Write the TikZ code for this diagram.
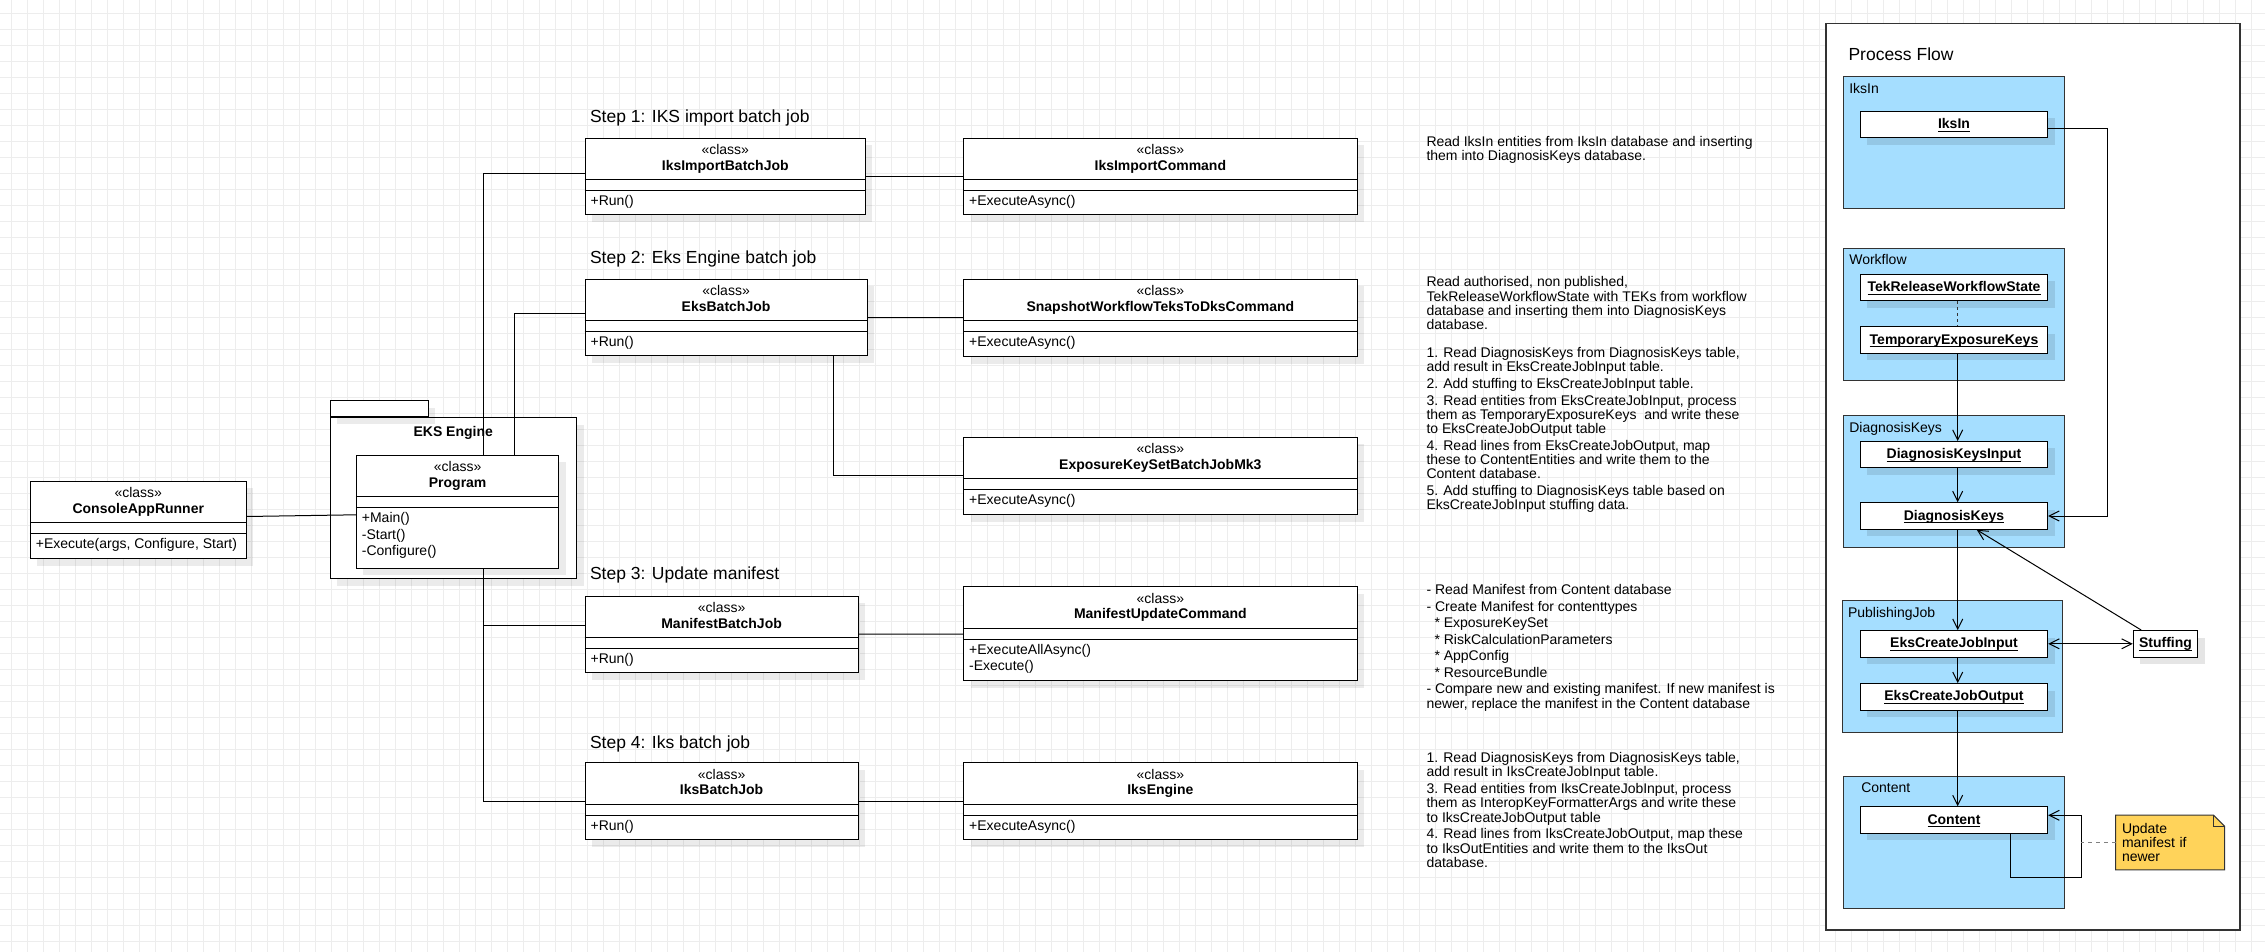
\documentclass[tikz,border=0pt]{standalone}
\usepackage{fontspec}
\setmainfont{Liberation Sans}
\usetikzlibrary{arrows.meta}
\usetikzlibrary{shadows}

\definecolor{groupBlue}{RGB}{165,222,255}
\definecolor{noteYellow}{RGB}{255,211,90}
\definecolor{gridGray}{RGB}{237,237,237}
\definecolor{lineGray}{RGB}{51,51,51}

\newsavebox{\UnderBox}
\newcommand{\Under}[1]{\sbox{\UnderBox}{#1}\rlap{\rule[-3.2pt]{\wd\UnderBox}{1pt}}\usebox{\UnderBox}}

\newcommand{\UMLClass}[7]{%
	\node[classStyle, minimum width = #4pt, minimum height = #5pt] (#1) at (#2, #3) {};
	\node[anchor = base] (#1Type) at ([yshift = -16.7pt]#1.north) {«class»};
	\node[anchor = base] (#1Name) at ([yshift = -32.5pt]#1.north) {\bfseries #6};
	\draw ([yshift = -42pt]#1.north west) -- ([yshift = -42pt]#1.north east);
	\draw ([yshift = -53pt]#1.north west) -- ([yshift = -53pt]#1.north east);
	\foreach \m [count = \i] in {#7}
		\node[anchor = base west] (#1Op\i) at ([xshift = 5.5pt, yshift = {-68pt - 16.5pt*(\i - 1)}]#1.north west) {\m};
}

\begin{document}
\begin{tikzpicture}[x = 1pt, y = -1pt, line width = 1pt, inner sep = 0pt, font = \fontsize{14}{16.5}\selectfont]
	\tikzstyle{classStyle} = [draw, fill = white, anchor = north west, drop shadow = {shadow xshift = 7pt, shadow yshift = -7pt, opacity = 0.08, fill = black}]
	\tikzstyle{packageStyle} = [draw, fill = white, drop shadow = {shadow xshift = 7pt, shadow yshift = -7pt, opacity = 0.08, fill = black}]
	\tikzstyle{stepStyle} = [anchor = base west, font = \fontsize{17.5}{21}\selectfont]
	\tikzstyle{descStyle} = [anchor = north west, align = left, font = \fontsize{14}{14.3}\selectfont]
	\tikzstyle{panelStyle} = [draw = lineGray, fill = white, anchor = north west, line width = 1.2pt]
	\tikzstyle{groupStyle} = [draw = lineGray, fill = groupBlue, anchor = north west, minimum width = 220.4pt, minimum height = 132pt]
	\tikzstyle{groupLabelStyle} = [anchor = base west]
	\tikzstyle{objectStyle} = [draw, fill = white, minimum width = 187.4pt, minimum height = 26.5pt, text height = 10pt, text depth = 2pt, font = \fontsize{14}{16.5}\selectfont\bfseries, drop shadow = {shadow xshift = 7pt, shadow yshift = -7pt, opacity = 0.1, fill = black}]
	\tikzstyle{flowStyle} = [-{Straight Barb[length = 10pt, width = 10pt]}]
	\tikzstyle{biflowStyle} = [{Straight Barb[length = 10pt, width = 10pt]}-{Straight Barb[length = 10pt, width = 10pt]}]
	\tikzstyle{noteStyle} = [draw = lineGray, fill = noteYellow]
	\useasboundingbox (0, 0) rectangle (2265, 952);
	\fill[white] (0, 0) rectangle (2265, 952);
	\begin{scope}[shift = {(11.3, 13.3)}]
		\draw[gridGray, step = 16pt] (-11.3, -13.3) grid (2253.7, 938.7);
	\end{scope}
	\node[packageStyle, anchor = north west, minimum width = 246.5pt, minimum height = 161pt] (eksEngine) at (329.5, 417) {};
	\node[packageStyle, anchor = south west, minimum width = 98.4pt, minimum height = 15.7pt] (eksEngineTab) at (eksEngine.north west) {};
	\node[anchor = base] (eksEngineName) at ([yshift = -19.7pt]eksEngine.north) {\bfseries EKS Engine};
	\node[stepStyle] (step1) at (589.5, 122.3) {Step 1: IKS import batch job};
	\node[stepStyle] (step2) at (589.5, 263) {Step 2: Eks Engine batch job};
	\node[stepStyle] (step3) at (589.5, 579.6) {Step 3: Update manifest};
	\node[stepStyle] (step4) at (589.5, 748) {Step 4: Iks batch job};
	\UMLClass{consoleRunner}{29.9}{480.7}{215.8}{77.6}{ConsoleAppRunner}{{+Execute(args, Configure, Start)}}
	\UMLClass{program}{355.9}{454.7}{202.5}{113}{Program}{+Main(), -Start(), -Configure()}
	\UMLClass{iksImportJob}{584.6}{137.7}{280.3}{76.6}{IksImportBatchJob}{+Run()}
	\UMLClass{iksImportCmd}{963.2}{137.7}{393.3}{76.6}{IksImportCommand}{+ExecuteAsync()}
	\UMLClass{eksJob}{584.6}{278.6}{281.9}{76.8}{EksBatchJob}{+Run()}
	\UMLClass{snapshotCmd}{963.2}{278.6}{393.3}{77.4}{SnapshotWorkflowTeksToDksCommand}{+ExecuteAsync()}
	\UMLClass{eksMk3}{963.2}{436.7}{393.3}{77.3}{ExposureKeySetBatchJobMk3}{+ExecuteAsync()}
	\UMLClass{manifestJob}{584.6}{595.7}{273}{76.6}{ManifestBatchJob}{+Run()}
	\UMLClass{manifestCmd}{963.2}{586.3}{393.3}{93.7}{ManifestUpdateCommand}{+ExecuteAllAsync(), -Execute()}
	\UMLClass{iksJob}{584.6}{762.3}{273}{77}{IksBatchJob}{+Run()}
	\UMLClass{iksEngine}{963.2}{762.3}{393.3}{77}{IksEngine}{+ExecuteAsync()}
	\draw ([yshift = 3.5pt]consoleRunner.east) -- ([yshift = -3.1pt]program.west);
	\draw ([xshift = 26.2pt]program.north) |- ([yshift = 3.3pt]iksImportJob.west);
	\draw ([xshift = 56.8pt]program.north) |- ([yshift = 3.7pt]eksJob.west);
	\draw ([xshift = 26.2pt]program.south) |- (iksJob.west);
	\draw ([xshift = 26.2pt]program.south) |- ([yshift = 9pt]manifestJob.west);
	\draw (iksImportJob) -- (iksImportCmd);
	\draw (eksJob) -- (snapshotCmd);
	\draw ([xshift = 107.5pt]eksJob.south) |- (eksMk3.west);
	\draw (manifestJob) -- (manifestCmd);
	\draw (iksJob) -- (iksEngine);
	\node[descStyle] (descStep1) at (1426, 135.5) {Read IksIn entities from IksIn database and inserting\\them into DiagnosisKeys database.};
	\node[descStyle] (descStep2) at (1426, 276.1) {Read authorised, non published,\\TekReleaseWorkflowState with TEKs from workflow\\database and inserting them into DiagnosisKeys\\database.\\[13.4pt]1. Read DiagnosisKeys from DiagnosisKeys table,\\add result in EksCreateJobInput table.\\[2.4pt]2. Add stuffing to EksCreateJobInput table.\\[2.4pt]3. Read entities from EksCreateJobInput, process\\them as TemporaryExposureKeys\ \ and write these\\to EksCreateJobOutput table\\[2.4pt]4. Read lines from EksCreateJobOutput, map\\these to ContentEntities and write them to the\\Content database.\\[2.4pt]5. Add stuffing to DiagnosisKeys table based on\\EksCreateJobInput stuffing data.};
	\node[descStyle] (descStep3) at (1426, 584.1) {- Read Manifest from Content database\\[2.2pt]- Create Manifest for contenttypes\\[2.2pt]\hspace*{8pt}* ExposureKeySet\\[2.2pt]\hspace*{8pt}* RiskCalculationParameters\\[2.2pt]\hspace*{8pt}* AppConfig\\[2.2pt]\hspace*{8pt}* ResourceBundle\\[2.2pt]- Compare new and existing manifest. If new manifest is\\newer, replace the manifest in the Content database};
	\node[descStyle] (descStep4) at (1426, 751.8) {1. Read DiagnosisKeys from DiagnosisKeys table,\\add result in IksCreateJobInput table.\\[2.4pt]3. Read entities from IksCreateJobInput, process\\them as InteropKeyFormatterArgs and write these\\to IksCreateJobOutput table\\[2.4pt]4. Read lines from IksCreateJobOutput, map these\\to IksOutEntities and write them to the IksOut\\database.};
	\node[panelStyle, minimum width = 414pt, minimum height = 906pt] (processFlow) at (1825.3, 23.3) {};
	\node[stepStyle] (processFlowTitle) at (1848, 60.6) {Process Flow};
	\node[groupStyle] (gIksIn) at (1843.3, 76.3) {};
	\node[groupStyle] (gWorkflow) at (1843.3, 247.7) {};
	\node[groupStyle] (gDiagnosisKeys) at (1843.3, 415) {};
	\node[groupStyle] (gPublishingJob) at (1842, 600) {};
	\node[groupStyle] (gContent) at (1843.3, 775.7) {};
	\node[groupLabelStyle] (gIksInLabel) at ([xshift = 5.5pt, yshift = -17pt]gIksIn.north west) {IksIn};
	\node[groupLabelStyle] (gWorkflowLabel) at ([xshift = 5.5pt, yshift = -17pt]gWorkflow.north west) {Workflow};
	\node[groupLabelStyle] (gDiagnosisKeysLabel) at ([xshift = 5.5pt, yshift = -17pt]gDiagnosisKeys.north west) {DiagnosisKeys};
	\node[groupLabelStyle] (gPublishingJobLabel) at ([xshift = 5.5pt, yshift = -17pt]gPublishingJob.north west) {PublishingJob};
	\node[groupLabelStyle] (gContentLabel) at ([xshift = 17.5pt, yshift = -17pt]gContent.north west) {Content};
	\node[objectStyle] (iksIn) at (1954, 124.5) {\Under{IksIn}};
	\node[objectStyle] (tekState) at (1954, 287.5) {\Under{TekReleaseWorkflowState}};
	\node[objectStyle] (tek) at (1954, 340) {\Under{TemporaryExposureKeys}};
	\node[objectStyle] (dkInput) at (1954, 454.7) {\Under{DiagnosisKeysInput}};
	\node[objectStyle] (dk) at (1954, 516) {\Under{DiagnosisKeys}};
	\node[objectStyle] (ecji) at (1954, 643.8) {\Under{EksCreateJobInput}};
	\node[objectStyle] (ecjo) at (1954, 696.9) {\Under{EksCreateJobOutput}};
	\node[objectStyle] (content) at (1954, 820) {\Under{Content}};
	\node[objectStyle, minimum width = 64.4pt] (stuffing) at (2165.5, 643.8) {\Under{Stuffing}};
	\node[minimum width = 108pt, minimum height = 53.6pt] (note) at (2170, 842.5) {};
	\filldraw[noteStyle] (note.north west) -- ([xshift = -11pt]note.north east) -- ([yshift = -11pt]note.north east) -- (note.south east) -- (note.south west) -- cycle;
	\draw[lineGray] ([xshift = -11pt]note.north east) -- ([xshift = -11pt, yshift = -11pt]note.north east) -- ([yshift = -11pt]note.north east);
	\node[text width = 96pt, align = left, font = \fontsize{14}{14.2}\selectfont] (noteText) at (note) {Update\\manifest if\\newer};
	\coordinate (flowX) at (1957.7, 0);
	\coordinate (iksInX) at (2107.3, 128.5);
	\coordinate (loopX) at (2081, 877);
	\draw[lineGray, dash pattern = on 3pt off 3pt] (tekState.south -| flowX) -- (tek.north -| flowX);
	\draw[flowStyle] (tek.south -| flowX) -- (dkInput.north -| flowX);
	\draw[flowStyle] (dkInput.south -| flowX) -- (dk.north -| flowX);
	\draw[flowStyle] (dk.south -| flowX) -- (ecji.north -| flowX);
	\draw[flowStyle] (ecji.south -| flowX) -- (ecjo.north -| flowX);
	\draw[flowStyle] (ecjo.south -| flowX) -- (content.north -| flowX);
	\draw[flowStyle] ([yshift = -4pt]iksIn.east) -| (iksInX) |- (dk.east);
	\draw[flowStyle] ([xshift = 8.4pt]stuffing.north west) -- ([xshift = 22.7pt]dk.south);
	\draw[biflowStyle] (ecji) -- (stuffing);
	\draw[flowStyle] ([xshift = 56.7pt]content.south) |- (loopX) |- ([yshift = 4.7pt]content.east);
	\draw[gray, dash pattern = on 4pt off 4pt] (note.west) -- (note.west -| loopX);
\end{tikzpicture}
\end{document}
